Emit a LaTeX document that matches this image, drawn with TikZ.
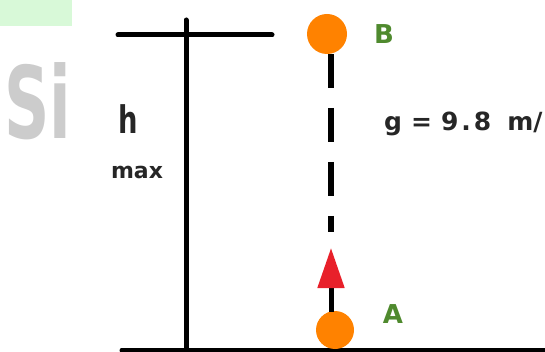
\documentclass[tikz,border=0pt]{standalone}
\usepackage{fontspec}
\setmainfont{DejaVu Sans}
\newfontfamily\logofont{DejaVu Sans Condensed}
\usetikzlibrary{arrows.meta}
\definecolor{ballorange}{HTML}{FF8200}
\definecolor{labelgreen}{HTML}{4F8A2E}
\definecolor{arrowred}{HTML}{E8202A}
\definecolor{boxgreen}{HTML}{D8F9D8}
\definecolor{logogray}{HTML}{CCCCCC}
\tikzset{
  ball/.style={circle, fill=ballorange, inner sep=0pt, minimum size=40pt},
  pointlabel/.style={text=labelgreen, font=\fontsize{26}{26}\selectfont\bfseries},
  wall/.style={line width=5pt, black, line cap=round},
  handtext/.style={inner sep=0pt, text=black!85}
}
\begin{document}
\begin{tikzpicture}[x=1pt, y=-1pt]
		\useasboundingbox (0,0) rectangle (545,352);
		\clip (0,0) rectangle (545,352);

		\fill [boxgreen] (0,0) rectangle (72,26);
		\node [text=logogray, font=\logofont\fontsize{100}{100}\selectfont\bfseries, xscale=0.7, inner sep=0pt] (logo) at (38,101) {Si};

		\draw [wall] (118,35) -- (272,35);
		\draw [wall] (186,20) -- (186,360);
		\draw [wall] (122,350) -- (560,350);

		\node [handtext, font=\fontsize{38}{38}\selectfont\bfseries, xscale=0.72] (h) at (128,119) {h};
		\node [handtext, font=\fontsize{22}{22}\selectfont\bfseries] (max) at (137,172) {max};

		\node [ball] (B) at (327,34) {};
		\node [ball, minimum size=38pt] (A) at (335,330) {};
		\node [pointlabel] (labelB) at (384,34) {B};
		\node [pointlabel] (labelA) at (393,314) {A};

		\coordinate (top) at (331,232);
		\coordinate (tip) at (331,248);
		\draw [line width=6pt, dash pattern=on 34pt off 20pt] (331,54) -- (top);
		\draw [line width=5pt, -{Triangle[color=arrowred, width=26pt, length=40pt]}] (331,312) -- (tip);

		\node [handtext, anchor=west, font=\fontsize{25}{25}\selectfont\bfseries] (gravity) at (384,124) {g\hspace{9pt}=\hspace{9pt}9\kern3pt.\kern3pt8\hspace{16pt}m/};

		\end{tikzpicture}
\end{document}
